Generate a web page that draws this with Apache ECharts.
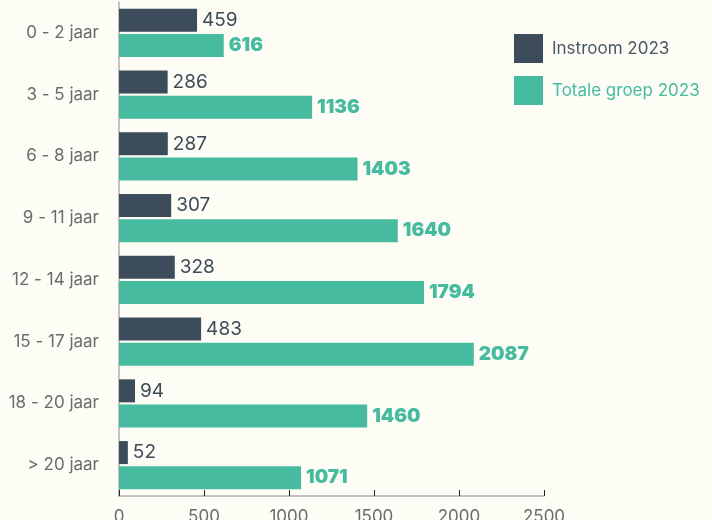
<!DOCTYPE html>
<html><head><meta charset="utf-8">
<script src="https://cdn.jsdelivr.net/npm/echarts@6/dist/echarts.min.js"></script>
<style>html,body{margin:0;padding:0;background:#fdfcf5;}#c{width:712px;height:520px;}</style>
</head><body><div id="c"></div>
<script>
const categories = ['0 - 2 jaar','3 - 5 jaar','6 - 8 jaar','9 - 11 jaar','12 - 14 jaar','15 - 17 jaar','18 - 20 jaar','> 20 jaar'];
const instroom = [459,286,287,307,328,483,94,52];
const totaal = [616,1136,1403,1640,1794,2087,1460,1071];
const xTicks = [0,500,1000,1500,2000,2500];
const DARK = '#3c4c5b', TEAL = '#47bba0';
const chart = echarts.init(document.getElementById('c'));
chart.setOption({
  backgroundColor: '#fdfcf5',
  animation: false,
  grid: {left: 119, right: 168, top: 2, bottom: 24, containLabel: false, outerBoundsMode: 'none'},
  legend: {
    orient: 'vertical', left: 514, top: 34, itemWidth: 29, itemHeight: 29, itemGap: 13,
    padding: 0, icon: 'rect',
    textStyle: {fontSize: 17, fontFamily: 'Inter', padding: [0,0,0,4]},
    data: [{name: 'Instroom 2023', textStyle: {color: '#4a5866'}},
           {name: 'Totale groep 2023', textStyle: {color: TEAL}}]
  },
  xAxis: {
    type: 'value', min: xTicks[0], max: xTicks[xTicks.length-1], interval: 500,
    splitLine: {show: false},
    axisLine: {show: true, lineStyle: {color: '#b0b0b0', width: 1.5}},
    axisTick: {show: true, inside: true, length: 6, lineStyle: {color: '#222'}},
    axisLabel: {color: '#6b6b6b', fontSize: 17, fontFamily: 'Inter', margin: 12,
                formatter: v => String(v)}
  },
  yAxis: {
    type: 'category', data: categories, inverse: true,
    axisLine: {show: true, lineStyle: {color: '#b0b0b0', width: 1.5}},
    axisTick: {show: false},
    axisLabel: {color: '#6b6b6b', fontSize: 17, fontFamily: 'Inter', margin: 20}
  },
  series: [
    {name: 'Instroom 2023', type: 'bar', data: instroom, barWidth: 23, barGap: '9%',
     itemStyle: {color: DARK},
     label: {show: true, position: 'right', distance: 5, color: '#3d4b59', fontSize: 19, fontFamily: 'Inter'}},
    {name: 'Totale groep 2023', type: 'bar', data: totaal, barWidth: 23,
     itemStyle: {color: TEAL},
     label: {show: true, position: 'right', distance: 5, color: TEAL, fontSize: 19, fontWeight: 900, fontFamily: 'Inter'}}
  ]
});
</script></body></html>
